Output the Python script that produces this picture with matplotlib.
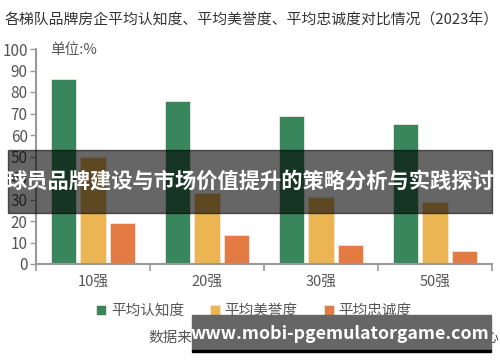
import matplotlib
matplotlib.use("Agg")
import matplotlib.pyplot as plt
from matplotlib.patches import Rectangle
import numpy as np

plt.rcParams['font.family'] = ['Noto Sans CJK SC', 'DejaVu Sans']

# 数据
categories = ["10强", "20强", "30强", "50强"]
awareness = [86, 76, 69, 65]     # 平均认知度
reputation = [50, 33, 31, 29]    # 平均美誉度
loyalty = [19, 13.5, 9, 6]       # 平均忠诚度
series_names = ["平均认知度", "平均美誉度", "平均忠诚度"]
colors = ["#39855c", "#ebb554", "#e37b43"]

fig = plt.figure(figsize=(5, 3.62), dpi=100)
ax = fig.add_axes([36/500, 1-264/362, 456/500, 215/362])

x = np.arange(len(categories))
w = 0.22
step = 0.255
for i, vals in enumerate([awareness, reputation, loyalty]):
    ax.bar(x + (i-1)*step, vals, width=w, color=colors[i],
           edgecolor="#f3e6dc", linewidth=0.6, label=series_names[i])

ax.set_xlim(-0.5, 3.5)
ax.set_ylim(0, 100)
ax.set_yticks(range(0, 101, 10))
ax.set_xticks(x)
ax.set_xticklabels(categories)
ax.set_xticks(np.arange(-0.5, 4, 1), minor=True)
ax.tick_params(axis="x", which="major", length=0, pad=8, labelsize=10.5, colors="#555555")
ax.tick_params(axis="x", which="minor", length=5, width=1.2, color="#999999", direction="out")
ax.tick_params(axis="y", length=4, width=1, color="#999999", labelsize=11, colors="#555555", pad=2)

for s in ["top", "right"]:
    ax.spines[s].set_visible(False)
for s in ["left", "bottom"]:
    ax.spines[s].set_color("#999999")
    ax.spines[s].set_linewidth(1.5)

fig.text(5/500, 1-20/362, "各梯队品牌房企平均认知度、平均美誉度、平均忠诚度对比情况（2023年）",
         fontsize=10.7, color="#333333", va="center", ha="left")
fig.text(50/500, 1-50/362, "单位:%", fontsize=10.5, color="#555555", va="center")

fig.legend(loc="center", bbox_to_anchor=(254/500, 1-311/362), ncol=3, frameon=False,
           fontsize=10.5, handlelength=0.7, handleheight=0.7, handletextpad=0.3,
           columnspacing=1.8, labelcolor="#555555")

fig.text(148/500, 1-338/362, "数据来源：上海易居房地产研究院中国房地产测评中心",
         fontsize=10.5, color="#555555", va="center", ha="left")

# 遮罩横幅
fig.patches.append(Rectangle((8/500, 1-213/362), 484/500, 63/362, transform=fig.transFigure,
                             color="black", alpha=0.6, zorder=10))
fig.text(250/500, 1-181/362, "球员品牌建设与市场价值提升的策略分析与实践探讨",
         fontsize=15.3, fontweight="bold", color="white", ha="center", va="center", zorder=11)

# 水印
fig.patches.append(Rectangle((192/500, 1-350/362), 299/500, 35/362, transform=fig.transFigure,
                             color="#666666", zorder=10))
fig.patches.append(Rectangle((192/500, 1-352/362), 299/500, 2/362, transform=fig.transFigure,
                             color="black", zorder=10))
fig.text(340/500, 1-334/362, "www.mobi-pgemulatorgame.com", fontsize=12.8, fontweight="bold",
         color="white", ha="center", va="center", zorder=11)

fig.savefig("out.png", dpi=100)
